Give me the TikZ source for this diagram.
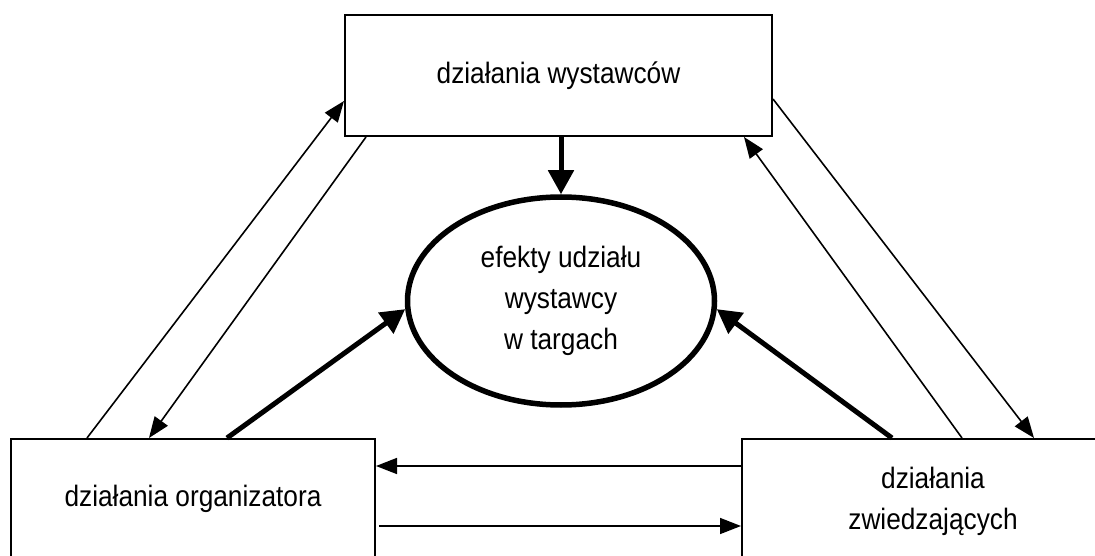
\documentclass[tikz,border=0pt]{standalone}
\usepackage{fontspec}
\setmainfont{Liberation Sans}[FakeStretch=0.89]
\usepackage{tikz}
\usetikzlibrary{arrows.meta, shapes.geometric}

\begin{document}
\begin{tikzpicture}[x=1pt, y=-1pt,
    box/.style={draw, line width=2pt, inner sep=0pt, align=center, font=\fontsize{29.5}{41}\selectfont},
    thin/.style={line width=1.6pt, -{Triangle[length=21pt, width=16pt]}},
    heavy/.style={line width=5pt, -{Triangle[length=24pt, width=25pt]}}]
    \clip (0,0) rectangle (1095,556);
    \node[box, minimum width=427pt, minimum height=121pt] (wys) at (558.5,75.5) {działania wystawców};
    \node[box, minimum width=364pt, minimum height=120pt] (org) at (193,499) {działania organizatora};
    \node[box, minimum width=382pt, minimum height=124pt] (zwi) at (933,501) {działania\\zwiedzających};
    \node[box, ellipse, line width=5.5pt, minimum width=307pt, minimum height=208pt] (efekt) at (561,301) {efekty udziału\\wystawcy\\w targach};
    % wystawcy - organizator
    \draw[thin] ([xshift=77pt]org.north west) -- ([yshift=36pt]wys.south west);
    \draw[thin] ([xshift=22pt]wys.south west) -- ([xshift=139pt]org.north west);
    % wystawcy - zwiedzajacy
    \draw[thin] ([yshift=38pt]wys.south east) -- ([xshift=293pt]zwi.north west);
    \draw[thin] ([xshift=221pt]zwi.north west) -- ([xshift=-29pt]wys.south east);
    % organizator - zwiedzajacy
    \draw[thin] ([yshift=-28pt]zwi.north west) -- ([yshift=-28pt]org.north east);
    \draw[thin] ([xshift=3pt, yshift=-88pt]org.north east) -- ([yshift=-88pt]zwi.north west);
    % efekty
    \draw[heavy] (efekt.north |- wys.south) -- (efekt.north);
    \draw[heavy] ([xshift=217pt]org.north west) -- (efekt.183);
    \draw[heavy] ([xshift=151pt]zwi.north west) -- (efekt.357);
\end{tikzpicture}
\end{document}
